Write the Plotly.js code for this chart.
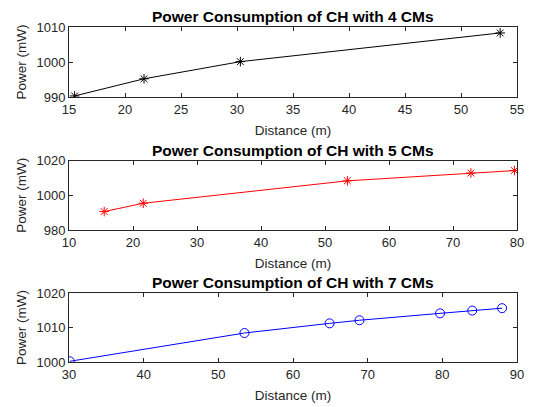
<!DOCTYPE html>
<html><head><meta charset="utf-8">
<script src="https://cdn.plot.ly/plotly-3.0.1.min.js"></script>
<style>body{margin:0;background:#fff}#c{width:533px;height:407px}</style>
</head><body><div id="c"></div>
<script>
const x4 = [15.5, 21.7, 30.3, 53.5];
const y4 = [990.3, 995.2, 1000.1, 1008.3];
const x5 = [15.5, 21.6, 53.5, 72.8, 79.6];
const y5 = [990.6, 995.4, 1008.3, 1012.8, 1014.2];
const x7 = [30.1, 53.5, 64.9, 68.9, 79.7, 84.0, 88.0];
const y7 = [1000.2, 1008.4, 1011.2, 1012.1, 1014.1, 1014.9, 1015.6];
const titles = ['Power Consumption of CH with 4 CMs','Power Consumption of CH with 5 CMs','Power Consumption of CH with 7 CMs'];
const xTitle = 'Distance (m)';
const yTitle = 'Power (mW)';

const H = 407;
const dom = (top, bot) => [1 - bot / H, 1 - top / H];
const axc = '#262626';
const fam = 'Liberation Sans, Arial, sans-serif';
const tickf = {family:fam, size:13, color:axc};
const titf = {family:fam, size:13.5, color:axc};
function xa(range, dtick, anchor){
  return {range:range, dtick:dtick, anchor:anchor, domain:[0,1], showline:true, linecolor:axc, linewidth:1,
    mirror:'ticks', ticks:'inside', ticklen:4, tickcolor:axc, showgrid:false, zeroline:false,
    tickfont:tickf, title:{text:xTitle, font:titf, standoff:9}};
}
function ya(range, dtick, anchor, d){
  return {range:range, dtick:dtick, anchor:anchor, domain:d, showline:true, linecolor:axc, linewidth:1,
    mirror:'ticks', ticks:'inside', ticklen:4, tickcolor:axc, showgrid:false, zeroline:false,
    tickfont:tickf, title:{text:yTitle, font:titf, standoff:6}};
}
const data = [
  {x:x4, y:y4, xaxis:'x', yaxis:'y', mode:'lines+markers', line:{color:'#000', width:1},
   marker:{symbol:'asterisk-open', size:8, color:'#000', line:{width:1, color:'#000'}}},
  {x:x5, y:y5, xaxis:'x2', yaxis:'y2', mode:'lines+markers', line:{color:'#ff0000', width:1},
   marker:{symbol:'asterisk-open', size:8, color:'#ff0000', line:{width:1, color:'#ff0000'}}},
  {x:x7, y:y7, xaxis:'x3', yaxis:'y3', mode:'lines+markers', line:{color:'#0000ff', width:1},
   marker:{symbol:'circle-open', size:9, color:'#0000ff', line:{width:1, color:'#0000ff'}}}
];
const tfont = {family:fam, size:15.5, color:'#000'};
const layout = {
  width:533, height:407, showlegend:false, paper_bgcolor:'#fff', plot_bgcolor:'#fff',
  margin:{l:69, r:16, t:0, b:0},
  xaxis:xa([15,55],5,'y'), yaxis:ya([990,1010],10,'x',dom(27,97)),
  xaxis2:xa([10,80],10,'y2'), yaxis2:ya([980,1020],20,'x2',dom(160.5,230)),
  xaxis3:xa([30,90],10,'y3'), yaxis3:ya([1000,1020],10,'x3',dom(293,362)),
  annotations:[
    {text:'<b>'+titles[0]+'</b>', xref:'paper', yref:'paper', x:0.5, y:1-17/H, yanchor:'middle', showarrow:false, font:tfont},
    {text:'<b>'+titles[1]+'</b>', xref:'paper', yref:'paper', x:0.5, y:1-150/H, yanchor:'middle', showarrow:false, font:tfont},
    {text:'<b>'+titles[2]+'</b>', xref:'paper', yref:'paper', x:0.5, y:1-282/H, yanchor:'middle', showarrow:false, font:tfont}
  ]
};
Plotly.newPlot('c', data, layout, {displayModeBar:false, staticPlot:true});
</script></body></html>
